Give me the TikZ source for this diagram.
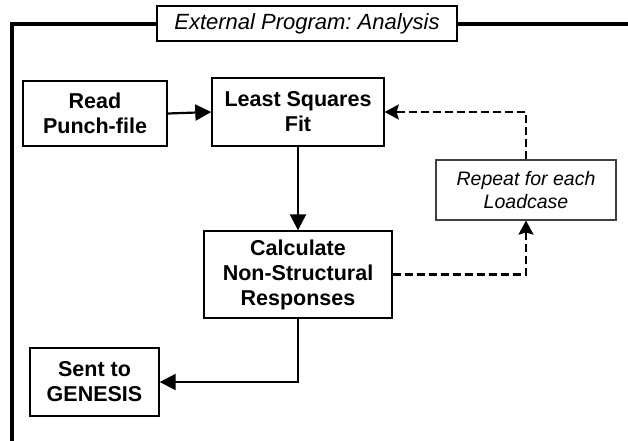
\documentclass[tikz,border=0pt]{standalone}
\usepackage{fontspec}
\setmainfont{Liberation Sans}
\usetikzlibrary{arrows.meta}
\frenchspacing
\begin{document}
\begin{tikzpicture}[x=1pt,y=-1pt,
  box/.style={draw=black,line width=1.4pt,fill=white,minimum width=#1,inner sep=0pt,align=center},
  boldtxt/.style={font=\fontsize{21.5}{25}\selectfont\bfseries},
  solidarrow/.style={line width=2.2pt,-{Triangle[length=16pt,width=16pt]}},
  dasharrow/.style={line width=2.2pt,dash pattern=on 8pt off 4pt,-{Stealth[length=14pt,width=15pt,inset=2pt]}},
  frameline/.style={line width=3.2pt}]
\useasboundingbox[fill=white] (0,0) rectangle (628,440);
\draw[frameline] (12,441) coordinate (fbl) -- (12,24) coordinate (ftl) -- (629,24) coordinate (ftr);
\node[box=300pt,minimum height=35pt,font=\fontsize{22}{26}\selectfont\itshape] (title) at (307,23.5) {External Program: Analysis};
\node[box=144pt,minimum height=65pt,boldtxt] (read) at (95,113.5) {Read\\Punch-file};
\node[box=172pt,minimum height=68pt,boldtxt] (lsf) at (298,112) {Least Squares\\Fit};
\node[box=188pt,minimum height=87pt,boldtxt] (cnr) at (298,274.5) {Calculate\\Non-Structural\\Responses};
\node[box=129pt,minimum height=68pt,boldtxt] (sent) at (94.5,382) {Sent to\\GENESIS};
\node[box=180pt,minimum height=60pt,line width=1.1pt,draw=black!75,font=\fontsize{19.5}{23.5}\selectfont\itshape] (rep) at (526,190) {Repeat for each\\Loadcase};
\draw[solidarrow] (read.east) -- (lsf.west);
\draw[solidarrow] (lsf.south) -- (cnr.north);
\draw[solidarrow] (cnr.south) |- (sent.east);
\draw[dasharrow] (cnr.east) -| (rep.south);
\draw[dasharrow] (rep.north) |- (lsf.east);
\end{tikzpicture}
\end{document}
